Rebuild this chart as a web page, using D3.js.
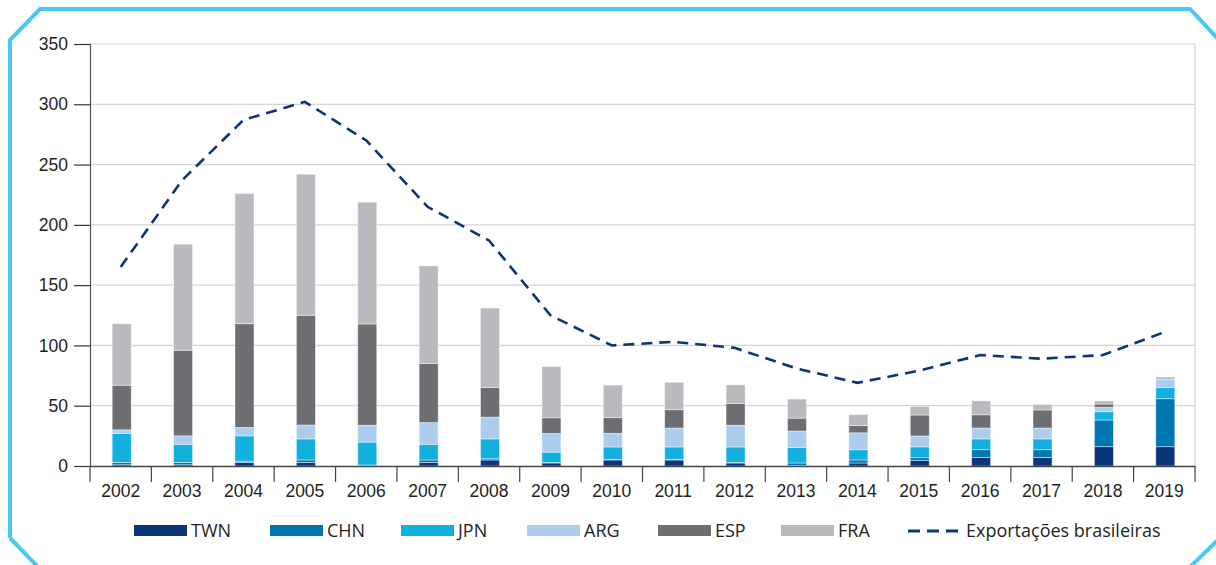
<!DOCTYPE html>
<html>
<head>
<meta charset="utf-8">
<script src="https://cdn.jsdelivr.net/npm/d3@7"></script>
<style>
  html, body { margin: 0; padding: 0; background: #fff; }
  svg { display: block; font-family: "Open Sans", "Noto Sans", sans-serif; }
</style>
</head>
<body>
<div id="chart"></div>
<script>
const years = ["2002","2003","2004","2005","2006","2007","2008","2009","2010","2011","2012","2013","2014","2015","2016","2017","2018","2019"];

// valores empilhados (ordem de baixo para cima)
const twn = [1, 1, 3, 3, 0.3, 3, 5, 2.5, 5, 5, 2.5, 0.5, 2.5, 4.7, 7, 7, 16, 16];
const chn = [2, 2, 1, 2, 0.5, 2, 1, 0.5, 0.5, 0.5, 0.5, 2, 2.5, 2.2, 6.5, 6.5, 22.2, 39.8];
const jpn = [24, 15, 21, 17.5, 19, 13, 16.5, 8.5, 10.3, 10.3, 12.8, 13, 8.5, 9, 9, 9, 6.8, 9.2];
const arg = [3, 7, 7, 11.5, 14, 18, 18, 15.5, 11.3, 15.7, 18, 13.5, 14, 9, 9, 9, 3.7, 6.6];
const esp = [37, 71, 86, 91, 84, 49, 24.5, 13, 13, 15.2, 18, 10.7, 6, 17.4, 11, 15, 2.7, 0];
const fra = [51, 88, 108, 117, 101, 81, 66, 42.5, 27, 22.7, 15.5, 15.8, 9.2, 7, 11.5, 4.5, 2.5, 2.2];

const exportacoes = [165, 237, 287, 302, 270, 215, 187, 125, 100, 103, 98, 81, 69, 79, 92, 89, 92, 111];

const seriesNames = ["TWN", "CHN", "JPN", "ARG", "ESP", "FRA"];
const seriesColors = ["#0b357a", "#0077b0", "#12b0de", "#abcdee", "#6d6e72", "#b9babe"];
const lineLabel = "Exportações brasileiras";
const yTicks = [0, 50, 100, 150, 200, 250, 300, 350];

const W = 1216, H = 565;
const margin = { left: 90, right: 21, top: 44, bottom: 99 };

const rows = years.map((y, i) => ({
  year: y, TWN: twn[i], CHN: chn[i], JPN: jpn[i], ARG: arg[i], ESP: esp[i], FRA: fra[i]
}));
const stacked = d3.stack().keys(seriesNames)(rows);

const svg = d3.select("#chart").append("svg")
  .attr("width", W).attr("height", H);

// moldura azul com cantos cortados
svg.append("path")
  .attr("d", "M10,538 L10,40 L40,9 L1190,9 L1219,40")
  .attr("fill", "none").attr("stroke", "#48c8f2").attr("stroke-width", 4);
svg.append("path")
  .attr("d", "M10,538 L38,567")
  .attr("fill", "none").attr("stroke", "#48c8f2").attr("stroke-width", 4);
svg.append("path")
  .attr("d", "M1190,567 L1219,539")
  .attr("fill", "none").attr("stroke", "#48c8f2").attr("stroke-width", 4);

const x = d3.scaleBand().domain(years).range([margin.left, W - margin.right]).padding(0);
const y = d3.scaleLinear().domain([0, 350]).range([H - margin.bottom, margin.top]);
const barW = x.bandwidth() * 0.31;

// grade
svg.append("g")
  .selectAll("line")
  .data(yTicks.filter(d => d > 0))
  .join("line")
  .attr("x1", margin.left).attr("x2", W - margin.right)
  .attr("y1", d => y(d)).attr("y2", d => y(d))
  .attr("stroke", "#d4d4d4").attr("stroke-width", 1.2);

svg.append("line")
  .attr("x1", W - margin.right).attr("x2", W - margin.right)
  .attr("y1", y(350)).attr("y2", y(0))
  .attr("stroke", "#d4d4d4").attr("stroke-width", 1.2);

// barras
svg.append("g")
  .selectAll("g")
  .data(stacked)
  .join("g")
  .attr("fill", (d, i) => seriesColors[i])
  .selectAll("rect")
  .data(d => d)
  .join("rect")
  .attr("x", d => x(d.data.year) + x.bandwidth() / 2 - barW / 2 + 1)
  .attr("y", d => y(d[1]))
  .attr("width", barW)
  .attr("height", d => Math.max(0, y(d[0]) - y(d[1])))
  .attr("stroke", "rgba(255,255,255,0.55)")
  .attr("stroke-width", 0.8);

// linha de exportações
const line = d3.line()
  .x((d, i) => x(years[i]) + x.bandwidth() / 2)
  .y(d => y(d));

svg.append("path")
  .datum(exportacoes)
  .attr("d", line)
  .attr("fill", "none")
  .attr("stroke", "#0b357a")
  .attr("stroke-width", 2.6)
  .attr("stroke-dasharray", "11,7");

// eixo Y
const yAxis = svg.append("g")
  .attr("transform", `translate(${margin.left},0)`)
  .call(d3.axisLeft(y).tickValues(yTicks).tickSize(16).tickPadding(6));
yAxis.select(".domain").attr("stroke", "#555").attr("stroke-width", 1.2);
yAxis.selectAll(".tick line").attr("stroke", "#333").attr("stroke-width", 1.2);
yAxis.selectAll("text")
  .attr("fill", "#231f20")
  .style("font-size", "17.5px");

// eixo X
const xAxis = svg.append("g")
  .attr("transform", `translate(0,${y(0)})`)
  .call(d3.axisBottom(x).tickSize(0).tickPadding(19));
xAxis.select(".domain").attr("stroke", "#444").attr("stroke-width", 1.5);
xAxis.selectAll("text")
  .attr("fill", "#231f20")
  .style("font-size", "17.5px");

svg.append("g")
  .selectAll("line")
  .data(years.concat(["end"]))
  .join("line")
  .attr("x1", d => d === "end" ? x.range()[1] : x(d))
  .attr("x2", d => d === "end" ? x.range()[1] : x(d))
  .attr("y1", y(0)).attr("y2", y(0) + 16)
  .attr("stroke", "#444").attr("stroke-width", 1.2);

// legenda
const legendItems = [
  { label: "TWN", x: 134 }, { label: "CHN", x: 270 }, { label: "JPN", x: 401 },
  { label: "ARG", x: 527 }, { label: "ESP", x: 658 }, { label: "FRA", x: 781 }
];
const legend = svg.append("g");
legendItems.forEach((it, i) => {
  legend.append("rect")
    .attr("x", it.x).attr("y", 525)
    .attr("width", 53).attr("height", 11)
    .attr("fill", seriesColors[i]);
  legend.append("text")
    .attr("x", it.x + 57).attr("y", 537)
    .attr("fill", "#231f20")
    .style("font-size", "18px")
    .text(it.label);
});
legend.append("line")
  .attr("x1", 908).attr("x2", 960)
  .attr("y1", 531).attr("y2", 531)
  .attr("stroke", "#0b357a").attr("stroke-width", 3)
  .attr("stroke-dasharray", "12,7");
legend.append("text")
  .attr("x", 966).attr("y", 537)
  .attr("fill", "#231f20")
  .style("font-size", "18px")
  .text(lineLabel);
</script>
</body>
</html>
